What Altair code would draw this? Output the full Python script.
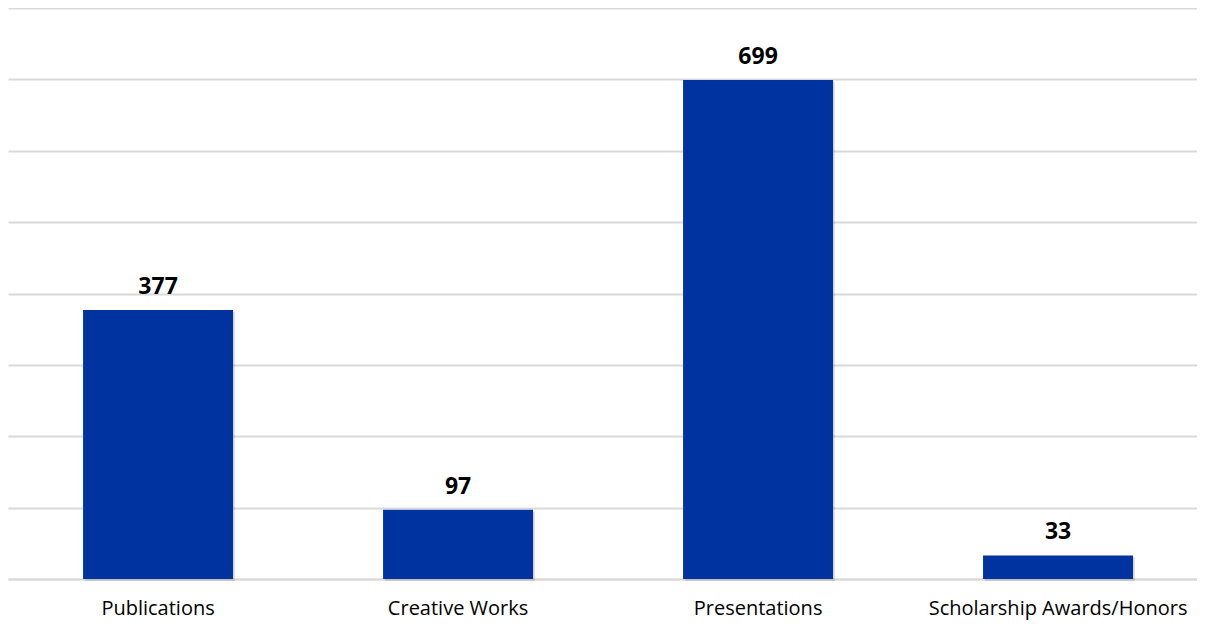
import altair as alt
import pandas as pd

categories = ["Publications", "Creative Works", "Presentations", "Scholarship Awards/Honors"]
counts = [377, 97, 699, 33]

df = pd.DataFrame({"category": categories, "count": counts})

FONT = "Open Sans"

x = alt.X("category:N", sort=categories, title=None,
          scale=alt.Scale(paddingInner=0.5, paddingOuter=0.2317, align=0.54),
          axis=alt.Axis(labelAngle=0, labelFontSize=20, labelFont=FONT, labelColor="#000000",
                        labelPadding=19, ticks=False, domainColor="#d9d9d9", domainWidth=2,
                        labelLimit=400))
y = alt.Y("count:Q", title=None,
          scale=alt.Scale(domain=[0, 800], nice=False),
          axis=alt.Axis(values=list(range(0, 801, 100)), labels=False, ticks=False, domain=False,
                        grid=True, gridColor="#d9d9d9", gridWidth=2))

base = alt.Chart(df)

shadow = base.mark_bar(color="#000000", opacity=0.12, xOffset=2, yOffset=2).encode(x=x, y=y)
bars = base.mark_bar(color="#0033A0").encode(x=x, y=y)
labels = base.mark_text(fontSize=23, fontWeight="bold", font=FONT, color="#000000",
                        baseline="bottom", dy=-11).encode(x=x, y=y, text="count:Q")

chart = (shadow + bars + labels).properties(
    width=1189, height=571,
    padding={"left": 0, "top": 0, "right": 0, "bottom": 5},
).configure_view(stroke=None)

chart.save("out.html", embed_options={"renderer": "svg", "actions": False})
